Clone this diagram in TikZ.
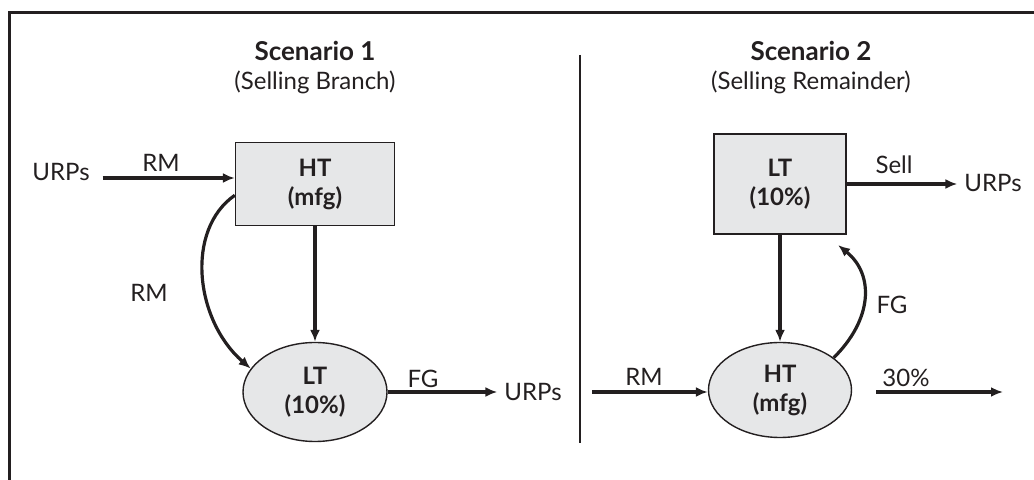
\documentclass[tikz,border=0pt]{standalone}
\usepackage{fontspec}
\setmainfont{Lato}
\usetikzlibrary{shapes.geometric,arrows.meta}
\definecolor{boxgray}{RGB}{230,231,232}
\definecolor{ink}{RGB}{35,31,32}
\newcommand{\diagfont}{\fontsize{12}{14.5}\selectfont}

\begin{document}
\begin{tikzpicture}[x=0.5pt, y=-0.5pt, font=\diagfont, color=ink]
 \tikzstyle{kasten}=[rectangle, draw, fill=boxgray, line width=0.7pt, align=center, font=\diagfont\bfseries]
 \tikzstyle{oval}=[ellipse, draw, fill=boxgray, line width=0.7pt, inner sep=1pt, align=center, font=\diagfont\bfseries]
 \tikzstyle{fluss}=[-{Latex[length=6pt,width=5pt]}, line width=1.6pt]
 %
 \useasboundingbox (0,0) rectangle (1034,480);
 \draw[line width=1.5pt] (9.5,480) -- (9.5,12.5) -- (1034,12.5);
 \draw[line width=0.75pt] (580,55) -- (580,443);
 %
 \node[align=center] (titelA) at (315,68) {{\fontsize{13}{14.5}\selectfont\bfseries Scenario 1}\\(Selling Branch)};
 \node[align=center] (titelB) at (811,68) {{\fontsize{13}{14.5}\selectfont\bfseries Scenario 2}\\(Selling Remainder)};
 %
 \node[kasten, minimum width=79.5pt, minimum height=41.5pt] (htA) at (315,184) {HT\\(mfg)};
 \node[oval, minimum width=72pt, minimum height=49.5pt] (ltA) at (315,392) {LT\\(10\%)};
 \node[kasten, minimum width=66pt, minimum height=50pt] (ltB) at (780,184) {LT\\(10\%)};
 \node[oval, minimum width=71.5pt, minimum height=47.5pt] (htB) at (780,390) {HT\\(mfg)};
 %
 \node (urpsA) at (61,172) {URPs};
 \node (urpsB) at (533,392) {URPs};
 \node (urpsC) at (993,183) {URPs};
 %
 \node (rmA) at (161,163) {RM};
 \node (rmB) at (149,293) {RM};
 \node (fgA) at (423,379) {FG};
 \node (rmC) at (644,377) {RM};
 \node (sell) at (894,165) {Sell};
 \node (fgB) at (892,305) {FG};
 \node (pct) at (906,378) {30\%};
 %
 \coordinate (rmStart) at (592,392);
 \coordinate (outA) at (876,392);
 \coordinate (outB) at (1003,392);
 \coordinate (fgEnd) at (838,245);
 %%
 \draw[fluss, shorten <=3pt] ([yshift=-3pt]urpsA.east) -- ([yshift=-3pt]urpsA.east -| htA.west);
 \draw[fluss] (htA.188) .. controls (185,230) and (195,320) .. (ltA.160);
 \draw[fluss] (htA.south) -- (ltA.north);
 \draw[fluss] (ltA.east) -- (ltA.east -| urpsB.west);
 \draw[fluss] (ltB.east) -- (ltB.east -| urpsC.west);
 \draw[fluss] (ltB.south) -- (htB.north);
 \draw[fluss] (rmStart) -- (rmStart -| htB.west);
 \draw[fluss] (htB.31) .. controls (872,320) and (875,275) .. (fgEnd);
 \draw[fluss] (outA) -- (outB);
\end{tikzpicture}
\end{document}
